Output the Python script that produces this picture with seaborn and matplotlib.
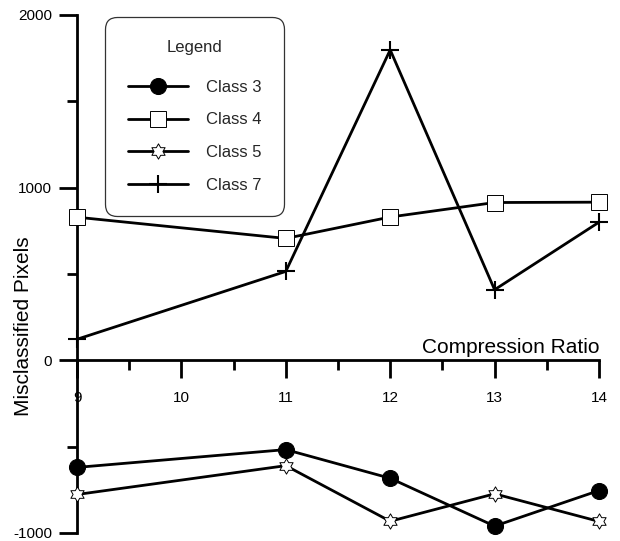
import numpy as np
import pandas as pd
import matplotlib
matplotlib.use("Agg")
import matplotlib.pyplot as plt
import seaborn as sns
from matplotlib.path import Path
from matplotlib.ticker import MultipleLocator

# ---- data ----
ratios = [9, 11, 12, 13, 14]
class3 = [-620, -517, -683, -960, -754]
class4 = [829, 706, 830, 914, 916]
class5 = [-777, -610, -932, -773, -933]
class7 = [122, 515, 1798, 409, 800]
class_names = ["Class 3", "Class 4", "Class 5", "Class 7"]
x_ticks = [9, 10, 11, 12, 13, 14]
y_ticks = [-1000, 0, 1000, 2000]

sns.set_theme(style="white")
plt.rcParams["font.family"] = ["Liberation Sans", "DejaVu Sans"]
plt.rcParams["axes.unicode_minus"] = False

# hexagram marker (Star of David)
ang_out = np.deg2rad(90 + 60 * np.arange(6))
ang_in = ang_out + np.deg2rad(30)
r_in = 1 / np.sqrt(3)
verts = []
for ao, ai in zip(ang_out, ang_in):
    verts.append((np.cos(ao), np.sin(ao)))
    verts.append((r_in * np.cos(ai), r_in * np.sin(ai)))
verts.append(verts[0])
codes = [Path.MOVETO] + [Path.LINETO] * 11 + [Path.CLOSEPOLY]
hexagram = Path(verts, codes)

fig = plt.figure(figsize=(6.2, 5.41), dpi=100)
ax = fig.add_axes([77 / 620, 8 / 541, 522 / 620, 518 / 541])

styles = [
    dict(marker="o", markersize=11.5, mfc="black", mec="black", mew=0.8),
    dict(marker="s", markersize=12, mfc="white", mec="black", mew=0.7),
    dict(marker=hexagram, markersize=11, mfc="white", mec="black", mew=0.7),
    dict(marker="+", markersize=13, mfc="black", mec="black", mew=1.5),
]
series = [class3, class4, class5, class7]
for name, vals, st in zip(class_names, series, styles):
    sns.lineplot(x=ratios, y=vals, ax=ax, color="black", linewidth=2.0,
                 label=name, clip_on=False, zorder=3, **st)

ax.set_xlim(9, 14)
ax.set_ylim(-1000, 2000)

for s in ["top", "right"]:
    ax.spines[s].set_visible(False)
ax.spines["bottom"].set_position(("data", 0))
for s in ["left", "bottom"]:
    ax.spines[s].set_color("black")
    ax.spines[s].set_linewidth(2.0)

ax.set_xticks(x_ticks)
ax.set_yticks(y_ticks)
ax.xaxis.set_minor_locator(MultipleLocator(0.5))
ax.yaxis.set_minor_locator(MultipleLocator(500))
ax.tick_params(axis="both", which="major", direction="out", length=13,
               width=2.0, color="black", labelsize=11, labelcolor="black")
ax.tick_params(axis="both", which="minor", direction="out", length=7,
               width=2.0, color="black")
ax.tick_params(axis="x", which="major", pad=9)
ax.tick_params(axis="y", which="major", pad=5)
ax.tick_params(bottom=True, left=True, which="both")

ax.set_xlabel("Compression Ratio", fontsize=15, color="black")
ax.xaxis.label.set_ha("right")
ax.xaxis.label.set_va("bottom")
ax.xaxis.set_label_coords(1.0, (533 - 357) / 518)

ax.set_ylabel("Misclassified Pixels", fontsize=15, color="black")
ax.yaxis.set_label_coords(-0.084, 0.40)

leg = ax.legend(title="Legend", loc="upper left",
                bbox_to_anchor=(0.054, 0.996), borderaxespad=0,
                fontsize=12, title_fontsize=12, handlelength=3.6,
                handletextpad=1.1, labelspacing=1.07, borderpad=1.35,
                frameon=True, fancybox=True, framealpha=1,
                edgecolor="#333333")
leg.get_frame().set_linewidth(0.9)
leg.get_frame().set_boxstyle("round,pad=0,rounding_size=0.7")
leg._legend_box.sep = 18
for line in leg.get_lines():
    line.set_linewidth(2.0)

fig.savefig("out.png", dpi=100)
